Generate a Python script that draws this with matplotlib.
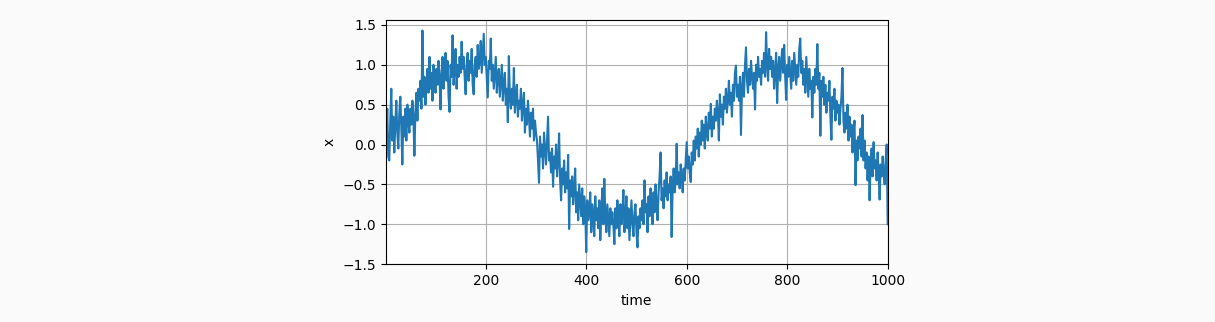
import numpy as np
import matplotlib
matplotlib.use("Agg")
import matplotlib.pyplot as plt

x_vals = [
    0.10, 0.45, -0.15, -0.20, 0.30, 0.70, 0.05, 0.35, -0.10, 0.25, 0.55, 0.15, -0.05, 0.40, 0.60, 0.20, -0.25, 0.35, 0.10, 0.45, 0.05, 0.50, 0.30, 0.15, 0.45,
    0.25, 0.55, 0.35, -0.14, 0.40, 0.65, 0.30, 0.70, 0.55, 0.80, 0.45, 1.43, 0.60, 0.85, 0.50, 0.75, 0.95, 0.65, 1.10, 0.70, 0.90, 0.55, 1.00, 0.80, 0.65,
    0.95, 0.75, 1.05, 0.85, 0.44, 0.90, 1.10, 0.70, 0.95, 1.15, 0.80, 1.05, 0.60, 0.41, 1.00, 0.85, 1.37, 0.75, 0.95, 1.20, 0.70, 1.00, 0.85, 1.10, 0.90,
    1.29, 0.95, 1.10, 0.85, 0.63, 1.00, 1.15, 0.80, 1.05, 0.90, 1.20, 0.75, 0.63, 1.00, 1.10, 0.85, 1.25, 0.95, 1.05, 1.30, 0.90, 1.15, 1.39, 1.00, 1.10,
    0.85, 0.59, 1.05, 0.95, 1.33, 0.80, 1.00, 0.70, 0.90, 1.10, 0.65, 0.85, 0.95, 0.60, 0.80, 1.00, 0.55, 0.75, 0.90, 0.50, 0.70, 0.28, 1.11, 0.60, 0.45,
    0.70, 0.50, 0.96, 0.40, 0.60, 0.75, 0.35, 0.55, 0.45, 0.70, 0.30, 0.50, 0.65, 0.15, 0.45, 0.25, 0.55, 0.35, 0.10, 0.40, 0.20, 0.45, 0.05, 0.30, 0.15,
    0.05, -0.20, -0.48, 0.10, -0.15, 0.00, -0.30, 0.15, -0.05, -0.25, 0.05, 0.35, -0.20, -0.10, -0.35, -0.05, -0.53, -0.15, -0.30, 0.00, -0.40, -0.20, 0.14, -0.45, -0.70,
    -0.30, -0.50, -0.20, -0.60, -0.35, -0.55, -0.13, -1.06, -0.45, -0.65, -0.40, -0.75, -0.55, -0.30, -0.85, -0.60, -0.95, -0.50, -0.70, -0.90, -0.55, -1.00, -0.65, -0.80, -1.35,
    -0.70, -0.95, -0.85, -0.60, -1.10, -0.75, -0.90, -1.15, -0.65, -0.95, -0.80, -1.05, -0.70, -1.20, -0.85, -0.55, -1.00, -0.43, -0.90, -1.10, -0.75, -0.95, -1.15, -0.80, -1.00,
    -0.85, -1.00, -1.25, -0.80, -1.05, -0.70, -0.95, -1.15, -0.75, -1.00, -0.85, -0.57, -1.10, -0.90, -0.65, -1.05, -0.80, -1.20, -0.95, -0.70, -1.00, -1.15, -0.85, -0.75, -1.10,
    -1.29, -0.90, -1.05, -0.80, -0.95, -0.70, -1.00, -0.45, -0.85, -0.75, -1.10, -0.65, -0.90, -0.55, -0.80, -1.00, -0.60, -0.85, -0.50, -0.75, -0.95, -0.60, -0.40, -0.10, -0.70,
    -0.55, -0.80, -0.45, -0.65, -0.35, -0.70, -0.50, -0.60, -0.40, -1.16, -0.55, -0.30, -0.60, -0.45, 0.01, -0.50, -0.35, -0.55, -0.25, -0.40, -0.60, -0.30, -0.45, -0.20, 0.03,
    -0.30, -0.15, -0.35, -0.47, -0.10, -0.25, 0.05, -0.20, 0.10, -0.05, 0.20, -0.15, 0.15, 0.00, 0.30, 0.05, 0.25, -0.05, 0.35, 0.15, 0.05, 0.40, 0.20, 0.51, 0.10,
    0.35, 0.20, 0.45, 0.30, 0.55, 0.40, 0.05, 0.63, 0.35, 0.50, 0.25, 0.60, 0.45, 0.70, 0.40, 0.55, 0.80, 0.50, 0.65, 0.35, 0.75, 0.55, 0.90, 0.99, 0.60,
    0.75, 0.55, 0.85, 0.12, 0.70, 0.90, 0.60, 1.00, 1.22, 0.80, 0.65, 0.95, 0.75, 1.05, 0.85, 0.70, 0.90, 0.44, 1.00, 0.80, 1.10, 0.85, 0.95, 0.75, 1.05,
    0.90, 1.15, 0.85, 1.41, 1.00, 0.80, 1.20, 0.95, 1.10, 0.85, 1.05, 0.70, 0.90, 1.15, 0.52, 0.95, 1.10, 0.80, 1.00, 1.20, 0.90, 1.25, 0.85, 0.56, 1.00,
    0.85, 1.10, 0.90, 0.70, 1.05, 0.80, 1.15, 0.95, 0.75, 1.00, 0.85, 1.20, 1.33, 0.90, 1.05, 0.75, 0.95, 0.65, 1.10, 0.85, 0.60, 0.95, 0.70, 0.80, 0.34,
    0.85, 0.65, 0.95, 0.75, 1.26, 0.70, 0.90, 0.11, 0.80, 0.60, 0.85, 0.50, 0.75, 0.40, 0.65, 0.55, 0.80, 0.35, 0.06, 0.60, 0.45, 0.70, 0.30, 0.55, 0.40,
    0.50, 0.25, 0.45, 0.60, 0.96, 0.30, 0.15, 0.40, 0.20, 0.50, 0.05, 0.35, 0.10, 0.25, -0.10, 0.15, 0.30, -0.51, 0.05, -0.20, 0.10, -0.05, 0.20, -0.15, 0.37,
    -0.20, 0.05, -0.30, -0.10, -0.45, -0.15, -0.70, -0.25, -0.05, -0.40, 0.03, -0.30, -0.20, -0.45, -0.10, -0.35, -0.69, -0.25, -0.40, -0.15, -0.35, -0.50, -0.20, 0.00, -1.00,
]
time = np.arange(2, 2 * len(x_vals) + 1, 2)

BG = "#fafafa"
BLUE = "#1f77b4"

fig = plt.figure(figsize=(12.15, 3.22), dpi=100)
fig.patch.set_facecolor(BG)
ax = fig.add_axes([0.3175, 0.1786, 0.4131, 0.7593])
ax.set_facecolor("white")

ax.plot(time, x_vals, color=BLUE, lw=1.5)
ax.set_xlim(1, 1000)
ax.set_ylim(-1.505, 1.5625)
ax.set_xticks([200, 400, 600, 800, 1000])
ax.set_yticks([-1.5, -1.0, -0.5, 0.0, 0.5, 1.0, 1.5])
ax.grid(True)
ax.set_xlabel("time")
ax.set_ylabel("x")

fig.savefig("out.png", facecolor=BG)
